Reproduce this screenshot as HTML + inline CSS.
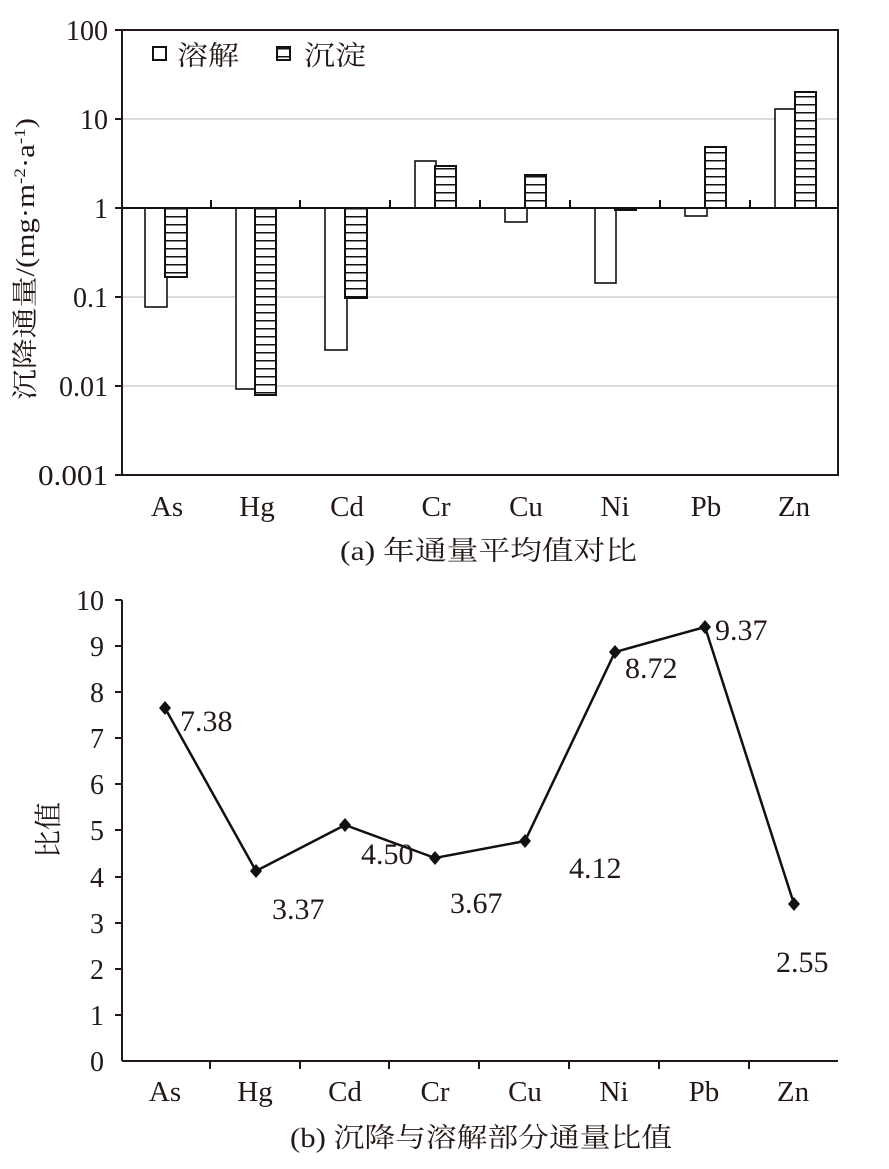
<!DOCTYPE html>
<html><head><meta charset="utf-8"><style>
html,body{margin:0;padding:0;background:#fff;}
svg{display:block;font-family:"Liberation Serif","Noto Serif CJK SC",serif;}
</style></head><body>
<svg width="889" height="1169" viewBox="0 0 889 1169" xmlns="http://www.w3.org/2000/svg">
<defs>
<pattern id="h" width="8" height="8" patternUnits="userSpaceOnUse" y="0">
<rect width="8" height="8" fill="#fff"/><line x1="0" y1="0.5" x2="8" y2="0.5" stroke="#111" stroke-width="2"/>
</pattern>
</defs>
<g stroke="#d8dcdc" stroke-width="2">
<line x1="122" y1="119" x2="838" y2="119"/>
<line x1="122" y1="297" x2="838" y2="297"/>
<line x1="122" y1="386" x2="838" y2="386"/>
</g>
<rect x="122" y="30" width="716" height="445" fill="none" stroke="#231815" stroke-width="2"/>
<g stroke="#231815" stroke-width="2">
<line x1="115" y1="30" x2="122" y2="30"/><line x1="115" y1="119" x2="122" y2="119"/>
<line x1="115" y1="208" x2="122" y2="208"/><line x1="115" y1="297" x2="122" y2="297"/>
<line x1="115" y1="386" x2="122" y2="386"/><line x1="115" y1="475" x2="122" y2="475"/>
</g>
<g font-size="28" text-anchor="end" fill="#231815">
<text x="108" y="40">100</text><text x="108" y="129">10</text><text x="108" y="218">1</text>
<text x="108" y="307">0.1</text><text x="108" y="396">0.01</text><text x="108" y="485" textLength="70" lengthAdjust="spacingAndGlyphs">0.001</text>
</g>
<g stroke="#111" stroke-width="1.6" fill="#fff">
<rect x="145" y="208" width="22" height="99"/>
<rect x="236" y="208" width="19" height="181"/>
<rect x="325" y="208" width="22" height="142"/>
<rect x="415" y="161" width="21" height="47"/>
<rect x="505" y="208" width="22" height="14"/>
<rect x="595" y="208" width="21" height="75"/>
<rect x="685" y="208" width="22" height="8"/>
<rect x="775" y="109" width="20" height="99"/>
</g>
<g stroke="#111" stroke-width="2" fill="url(#h)">
<rect x="165" y="208" width="22" height="69"/>
<rect x="255" y="208" width="21" height="187"/>
<rect x="345" y="208" width="22" height="90"/>
<rect x="435" y="166" width="21" height="42"/>
<rect x="525" y="175" width="21" height="33"/>
<rect x="615" y="208" width="21" height="2"/>
<rect x="705" y="147" width="21" height="61"/>
<rect x="795" y="92" width="21" height="116"/>
</g>
<line x1="122" y1="208" x2="838" y2="208" stroke="#111" stroke-width="2"/>
<g stroke="#111" stroke-width="2">
<line x1="211" y1="200" x2="211" y2="208"/><line x1="300" y1="200" x2="300" y2="208"/>
<line x1="390" y1="200" x2="390" y2="208"/><line x1="480" y1="200" x2="480" y2="208"/>
<line x1="570" y1="200" x2="570" y2="208"/><line x1="660" y1="200" x2="660" y2="208"/>
<line x1="750" y1="200" x2="750" y2="208"/>
</g>
<rect x="153" y="47" width="13" height="13" fill="#fff" stroke="#111" stroke-width="2"/>
<text x="177" y="65" font-size="27" fill="#231815" textLength="62" lengthAdjust="spacingAndGlyphs">溶解</text>
<rect x="277" y="47" width="13" height="13" fill="url(#h)" stroke="#111" stroke-width="2"/>
<text x="304" y="65" font-size="27" fill="#231815" textLength="62" lengthAdjust="spacingAndGlyphs">沉淀</text>
<g font-size="29" text-anchor="middle" fill="#231815">
<text x="167" y="516">As</text><text x="257" y="516">Hg</text><text x="347" y="516">Cd</text>
<text x="436" y="516">Cr</text><text x="526" y="516">Cu</text><text x="615" y="516">Ni</text>
<text x="706" y="516">Pb</text><text x="794" y="516">Zn</text>
</g>
<text x="340" y="560" font-size="27" fill="#231815" textLength="297" lengthAdjust="spacingAndGlyphs">(a) 年通量平均值对比</text>
<text transform="translate(34,259) rotate(-90)" font-size="26" text-anchor="middle" fill="#231815" textLength="282" lengthAdjust="spacingAndGlyphs">沉降通量/(mg·m<tspan font-size="16" dy="-9">-2</tspan><tspan dy="9">·a</tspan><tspan font-size="16" dy="-9">-1</tspan><tspan dy="9">)</tspan></text>
<g stroke="#231815" stroke-width="2">
<line x1="122" y1="600" x2="122" y2="1061"/>
<line x1="122" y1="1061" x2="838" y2="1061"/>
</g>
<g stroke="#231815" stroke-width="2">
<line x1="115" y1="600" x2="122" y2="600"/><line x1="115" y1="646" x2="122" y2="646"/>
<line x1="115" y1="692" x2="122" y2="692"/><line x1="115" y1="738" x2="122" y2="738"/>
<line x1="115" y1="784" x2="122" y2="784"/><line x1="115" y1="830" x2="122" y2="830"/>
<line x1="115" y1="877" x2="122" y2="877"/><line x1="115" y1="923" x2="122" y2="923"/>
<line x1="115" y1="969" x2="122" y2="969"/><line x1="115" y1="1015" x2="122" y2="1015"/>
<line x1="210" y1="1061" x2="210" y2="1069"/><line x1="300" y1="1061" x2="300" y2="1069"/>
<line x1="389" y1="1061" x2="389" y2="1069"/><line x1="479" y1="1061" x2="479" y2="1069"/>
<line x1="569" y1="1061" x2="569" y2="1069"/><line x1="659" y1="1061" x2="659" y2="1069"/>
<line x1="749" y1="1061" x2="749" y2="1069"/>
</g>
<g font-size="28" text-anchor="end" fill="#231815">
<text x="104" y="610">10</text><text x="104" y="656">9</text><text x="104" y="702">8</text>
<text x="104" y="748">7</text><text x="104" y="794">6</text><text x="104" y="840">5</text>
<text x="104" y="887">4</text><text x="104" y="933">3</text><text x="104" y="979">2</text>
<text x="104" y="1025">1</text><text x="104" y="1071">0</text>
</g>
<polyline points="165,708 256,871 345,825 435,858 525,841 615,652 705,627 794,904" fill="none" stroke="#111" stroke-width="2.5"/>
<g fill="#111">
<path d="M165 701 L171 708 L165 715 L159 708Z"/><path d="M256 864 L262 871 L256 878 L250 871Z"/>
<path d="M345 818 L351 825 L345 832 L339 825Z"/><path d="M435 851 L441 858 L435 865 L429 858Z"/>
<path d="M525 834 L531 841 L525 848 L519 841Z"/><path d="M615 645 L621 652 L615 659 L609 652Z"/>
<path d="M705 620 L711 627 L705 634 L699 627Z"/><path d="M794 897 L800 904 L794 911 L788 904Z"/>
</g>
<g font-size="30" fill="#231815">
<text x="180" y="731">7.38</text><text x="272" y="919">3.37</text><text x="361" y="864">4.50</text>
<text x="450" y="913">3.67</text><text x="569" y="878">4.12</text><text x="625" y="678">8.72</text>
<text x="715" y="640">9.37</text><text x="776" y="972">2.55</text>
</g>
<text transform="translate(58,830) rotate(-90)" font-size="28" text-anchor="middle" fill="#231815">比值</text>
<g font-size="29" text-anchor="middle" fill="#231815">
<text x="165" y="1101">As</text><text x="255" y="1101">Hg</text><text x="345" y="1101">Cd</text>
<text x="435" y="1101">Cr</text><text x="525" y="1101">Cu</text><text x="614" y="1101">Ni</text>
<text x="704" y="1101">Pb</text><text x="793" y="1101">Zn</text>
</g>
<text x="290" y="1147" font-size="27" fill="#231815" textLength="382" lengthAdjust="spacingAndGlyphs">(b) 沉降与溶解部分通量比值</text>
</svg>
</body></html>
